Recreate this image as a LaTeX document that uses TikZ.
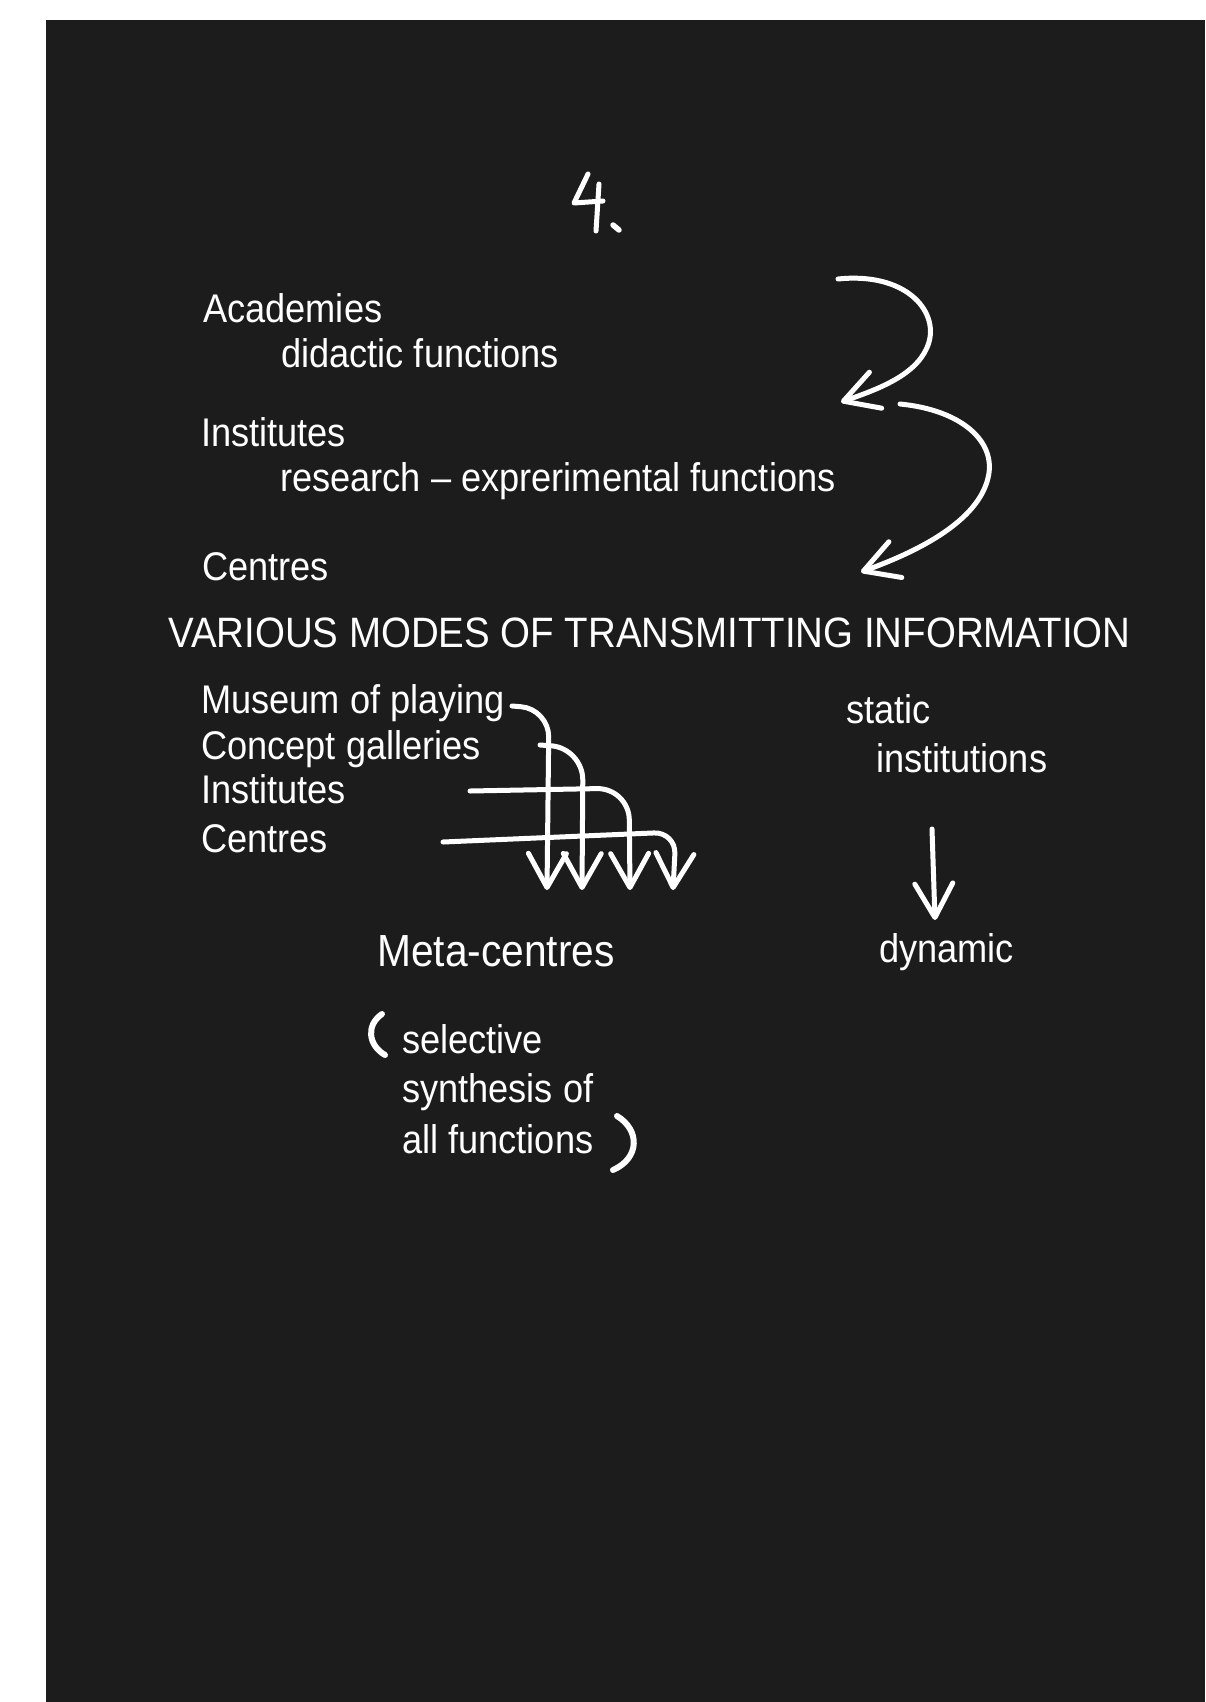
\documentclass[tikz,border=0pt]{standalone}
\usepackage{fontspec}
\setmainfont[FakeStretch=0.905]{Liberation Sans}
\usetikzlibrary{arrows.meta}

\definecolor{pizarra}{HTML}{1C1C1C}

\tikzset{
  txt/.style={anchor=base west, inner sep=0pt, text=white, font=\fontsize{40}{48}\selectfont},
  titulo/.style={txt, font=\fontsize{42.5}{50}\selectfont},
  grande/.style={txt, font=\fontsize{45}{54}\selectfont},
  mano/.style={draw=white, line width=5pt, line cap=round, line join=round},
  punta/.style={-{Straight Barb[length=34pt,width=38pt,line cap=round,line join=round]}},
}

\begin{document}
\begin{tikzpicture}[x=1pt,y=-1pt]
    % Fondo
    \useasboundingbox (0,0) rectangle (1205,1702);
    \fill[white] (0,0) rectangle (1205,1702);
    \fill[pizarra] (46,20) rectangle (1205,1702);

    % Numero escrito a mano
    \draw[mano, line width=5pt] (588,174) -- (574,203) -- (603,201);
    \draw[mano, line width=5pt] (599,184) -- (596,231);
    \draw[mano, line width=5.5pt] (613,225) -- (619,230);

    % Parte superior
    \node[txt] (acad) at (203,322) {Academies};
    \node[txt] (acadf) at (281,367) {didactic functions};
    \node[txt] (inst) at (201,446) {Institutes};
    \node[txt] (instf) at (280,491) {research – exprerimental functions};
    \node[txt] (cent) at (202,580) {Centres};

    \coordinate (c1a) at (838,279);
    \coordinate (c1b) at (841,402);
    \coordinate (c2a) at (900,404);
    \coordinate (c2b) at (861,572);
    \draw[mano, punta] (c1a) .. controls (905,272) and (938,310) .. (929,342)
        .. controls (920,373) and (882,388) .. (c1b);
    \draw[mano, punta] (c2a) .. controls (962,410) and (997,442) .. (988,478)
        .. controls (978,520) and (922,550) .. (c2b);

    \node[titulo] (modos) at (168,647) {VARIOUS MODES OF TRANSMITTING INFORMATION};

    % Lista inferior
    \node[txt] (museo) at (201,713) {Museum of playing};
    \node[txt] (galer) at (201,759) {Concept galleries};
    \node[txt] (inst2) at (201,803) {Institutes};
    \node[txt] (cent2) at (201,852) {Centres};

    \node[txt] (static) at (846,723) {static};
    \node[txt] (instit) at (876,772) {institutions};

    \node[grande] (meta) at (377,966) {Meta-centres};
    \node[txt] (dyn) at (879,962) {dynamic};

    % Flechas hacia los meta-centros
    \coordinate (ma) at (512,706);
    \coordinate (mb) at (540,745);
    \coordinate (mc) at (470,791);
    \coordinate (md) at (443,842);
    \draw[mano, punta, rounded corners=28pt] (ma) -- (549,709) -- (547,890);
    \draw[mano, punta, rounded corners=32pt] (mb) -- (583,748) -- (582,890);
    \draw[mano, punta, rounded corners=32pt] (mc) -- (629,788) -- (630,890);
    \draw[mano, punta, rounded corners=22pt] (md) -- (676,832) -- (673,890);

    % Flecha estatico -> dinamico
    \coordinate (sa) at (932,829);
    \coordinate (sb) at (935,920);
    \draw[mano, punta] (sa) -- (sb);

    % Parentesis
    \node[txt] (sel) at (402,1053) {selective};
    \node[txt] (syn) at (402,1102) {synthesis of};
    \node[txt] (all) at (402,1153) {all functions};
    \draw[mano, line width=6pt] (382,1014) .. controls (366,1025) and (368,1045) .. (385,1055);
    \draw[mano, line width=6pt] (617,1116) .. controls (640,1130) and (640,1158) .. (613,1170);
\end{tikzpicture}
\end{document}
